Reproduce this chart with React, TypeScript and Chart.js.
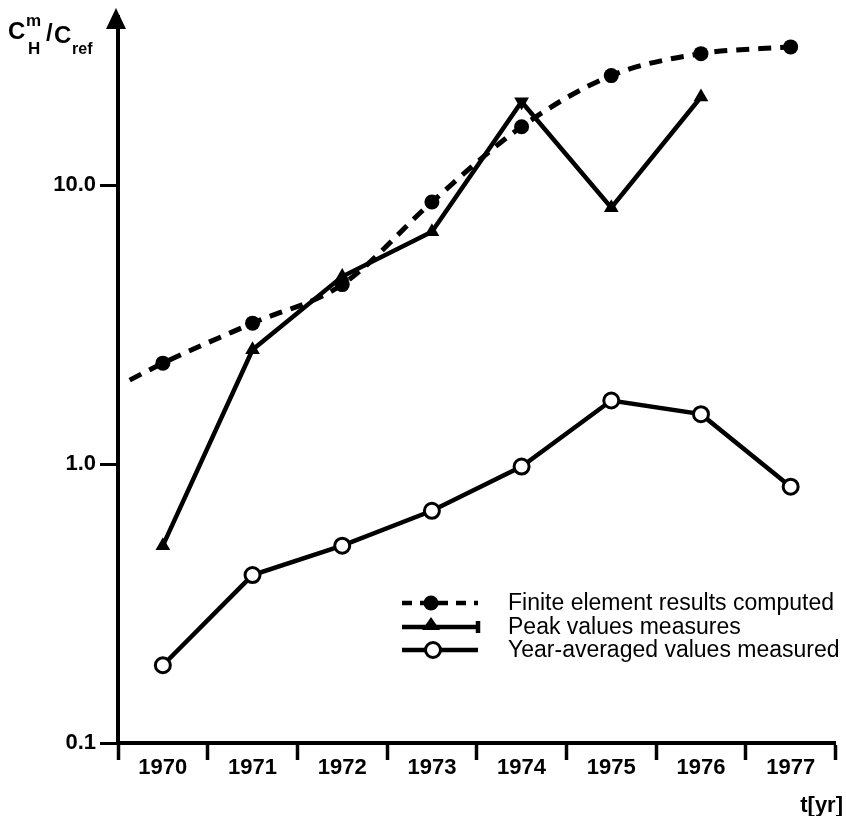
import React, { useEffect, useRef } from "react";
import { Chart, registerables } from "chart.js";

Chart.register(...registerables);

const yearLabels = [1970, 1971, 1972, 1973, 1974, 1975, 1976, 1977];
const xBoundaries = [1969.5, 1970.5, 1971.5, 1972.5, 1973.5, 1974.5, 1975.5, 1976.5, 1977.5];
const yTickValues = [0.1, 1, 10];
const yTickLabels = ["0.1", "1.0", "10.0"];

// Finite element results (dashed curve, starts slightly before 1970)
const finiteX = [1969.63, 1970, 1971, 1972, 1973, 1974, 1975, 1976, 1977];
const finiteValues = [2.0, 2.3, 3.2, 4.4, 8.7, 16.2, 24.7, 29.6, 31.3];
const finiteRadius = [0, 7.5, 7.5, 7.5, 7.5, 7.5, 7.5, 7.5, 7.5];

// Peak values measured
const peakX = [1970, 1971, 1972, 1973, 1974, 1975, 1976];
const peakValues = [0.51, 2.57, 4.7, 6.8, 19.9, 8.3, 20.7];
const peakRotation = [0, 0, 0, 0, 180, 0, 0];

// Year-averaged values measured
const avgX = [1970, 1971, 1972, 1973, 1974, 1975, 1976, 1977];
const avgValues = [0.19, 0.4, 0.51, 0.68, 0.98, 1.69, 1.51, 0.83];

const legendItems = [
  "Finite element results computed",
  "Peak values measures",
  "Year-averaged values measured",
];

const FONT = "'Liberation Sans', Arial, Helvetica, sans-serif";

const decorPlugin = {
  id: "decor",
  afterDraw(chart: any) {
    const ctx = chart.ctx;
    const area = chart.chartArea;
    ctx.save();
    // y-axis arrow head
    const ax = area.left - 2;
    ctx.fillStyle = "#000";
    ctx.beginPath();
    ctx.moveTo(ax, 8);
    ctx.lineTo(ax - 10, 29);
    ctx.lineTo(ax + 10, 29);
    ctx.closePath();
    ctx.fill();

    // y-axis title  C^m_H / C_ref
    ctx.fillStyle = "#000";
    ctx.textBaseline = "alphabetic";
    ctx.textAlign = "left";
    ctx.font = `bold 24px ${FONT}`;
    ctx.fillText("C", 8, 39);
    ctx.font = `bold 17px ${FONT}`;
    ctx.fillText("m", 26, 26);
    ctx.fillText("H", 28, 54);
    ctx.font = `bold 24px ${FONT}`;
    ctx.fillText("/", 46, 41);
    ctx.fillText("C", 54, 43);
    ctx.font = `bold 16px ${FONT}`;
    ctx.fillText("ref", 72, 54);

    // x-axis title
    ctx.font = `bold 22px ${FONT}`;
    ctx.textAlign = "right";
    ctx.fillText("t[yr]", 843, 812);

    // legend
    const rows = [603, 627, 650];
    const x0 = 402;
    const x1 = 478;
    ctx.strokeStyle = "#000";
    ctx.fillStyle = "#000";
    // row 1: dashed with filled circle
    ctx.lineWidth = 4.5;
    ctx.setLineDash([10, 8]);
    ctx.beginPath();
    ctx.moveTo(x0, rows[0]);
    ctx.lineTo(x1, rows[0]);
    ctx.stroke();
    ctx.setLineDash([]);
    ctx.beginPath();
    ctx.arc(431, rows[0], 7.5, 0, Math.PI * 2);
    ctx.fill();
    // row 2: solid with triangle and end bar
    ctx.lineWidth = 4.5;
    ctx.beginPath();
    ctx.moveTo(x0, rows[1]);
    ctx.lineTo(x1, rows[1]);
    ctx.stroke();
    ctx.beginPath();
    ctx.moveTo(x1, rows[1] - 6);
    ctx.lineTo(x1, rows[1] + 6);
    ctx.stroke();
    ctx.beginPath();
    ctx.moveTo(431, rows[1] - 10);
    ctx.lineTo(422, rows[1] + 3);
    ctx.lineTo(440, rows[1] + 3);
    ctx.closePath();
    ctx.fill();
    // row 3: solid with open circle
    ctx.beginPath();
    ctx.moveTo(x0, rows[2]);
    ctx.lineTo(x1, rows[2]);
    ctx.stroke();
    ctx.fillStyle = "#fff";
    ctx.lineWidth = 3;
    ctx.beginPath();
    ctx.arc(433, rows[2], 7.5, 0, Math.PI * 2);
    ctx.fill();
    ctx.stroke();

    ctx.fillStyle = "#000";
    ctx.textAlign = "left";
    ctx.textBaseline = "middle";
    ctx.font = `23px ${FONT}`;
    legendItems.forEach((t, i) => ctx.fillText(t, 508, rows[i] + 1));
    ctx.restore();
  },
};

export default function App() {
  const ref = useRef<HTMLCanvasElement | null>(null);
  useEffect(() => {
    if (!ref.current) return;
    const chart = new Chart(ref.current, {
      type: "line",
      data: {
        datasets: [
          {
            label: legendItems[0],
            data: finiteX.map((x, i) => ({ x, y: finiteValues[i] })),
            borderColor: "#000",
            backgroundColor: "#000",
            borderWidth: 5,
            borderDash: [13, 9],
            cubicInterpolationMode: "monotone",
            pointRadius: finiteRadius,
            pointBackgroundColor: "#000",
            pointBorderWidth: 0,
          },
          {
            label: legendItems[1],
            data: peakX.map((x, i) => ({ x, y: peakValues[i] })),
            borderColor: "#000",
            backgroundColor: "#000",
            borderWidth: 4.5,
            pointStyle: "triangle",
            pointRadius: 8.5,
            pointRotation: peakRotation,
            pointBackgroundColor: "#000",
            pointBorderWidth: 0,
          },
          {
            label: legendItems[2],
            data: avgX.map((x, i) => ({ x, y: avgValues[i] })),
            borderColor: "#000",
            backgroundColor: "#fff",
            borderWidth: 4.5,
            pointRadius: 7.5,
            pointBackgroundColor: "#fff",
            pointBorderColor: "#000",
            pointBorderWidth: 3,
          },
        ],
      },
      options: {
        animation: false,
        responsive: false,
        layout: { padding: { left: 0, right: 6, top: 12, bottom: 0 } },
        plugins: { legend: { display: false }, tooltip: { enabled: false } },
        scales: {
          x: {
            type: "linear",
            min: 1969.5,
            max: 1977.5,
            afterBuildTicks: (s: any) => {
              const vals = [...xBoundaries, ...yearLabels].sort((a, b) => a - b);
              s.ticks = vals.map((v) => ({ value: v }));
            },
            afterFit: (s: any) => {
              s.height = 73;
            },
            ticks: {
              autoSkip: false,
              maxRotation: 0,
              color: "#000",
              padding: -5,
              font: { family: FONT, size: 22, weight: "bold" },
              callback: (v: any) => (yearLabels.includes(v) ? String(v) : ""),
            },
            grid: {
              drawOnChartArea: false,
              tickLength: 17,
              tickWidth: 3.5,
              tickColor: (c: any) =>
                c.tick && Number.isInteger(c.tick.value) ? "rgba(0,0,0,0)" : "#000",
            },
            border: { color: "#000", width: 4 },
          },
          y: {
            type: "logarithmic",
            min: 0.1,
            max: 40,
            afterBuildTicks: (s: any) => {
              s.ticks = yTickValues.map((v) => ({ value: v }));
            },
            afterFit: (s: any) => {
              s.width = 118;
            },
            ticks: {
              color: "#000",
              padding: 4,
              font: { family: FONT, size: 22, weight: "bold" },
              callback: (v: any) => {
                const i = yTickValues.indexOf(Number(v));
                return i >= 0 ? yTickLabels[i] : "";
              },
            },
            grid: {
              drawOnChartArea: false,
              tickLength: 18,
              tickWidth: 3,
              tickColor: "#000",
            },
            border: { color: "#000", width: 4 },
          },
        },
      },
      plugins: [decorPlugin],
    } as any);
    return () => chart.destroy();
  }, []);
  return (
    <div style={{ position: "absolute", left: 0, top: 0, width: 846, height: 816, background: "#fff" }}>
      <canvas ref={ref} width={846} height={816} style={{ width: 846, height: 816, display: "block" }} />
    </div>
  );
}
